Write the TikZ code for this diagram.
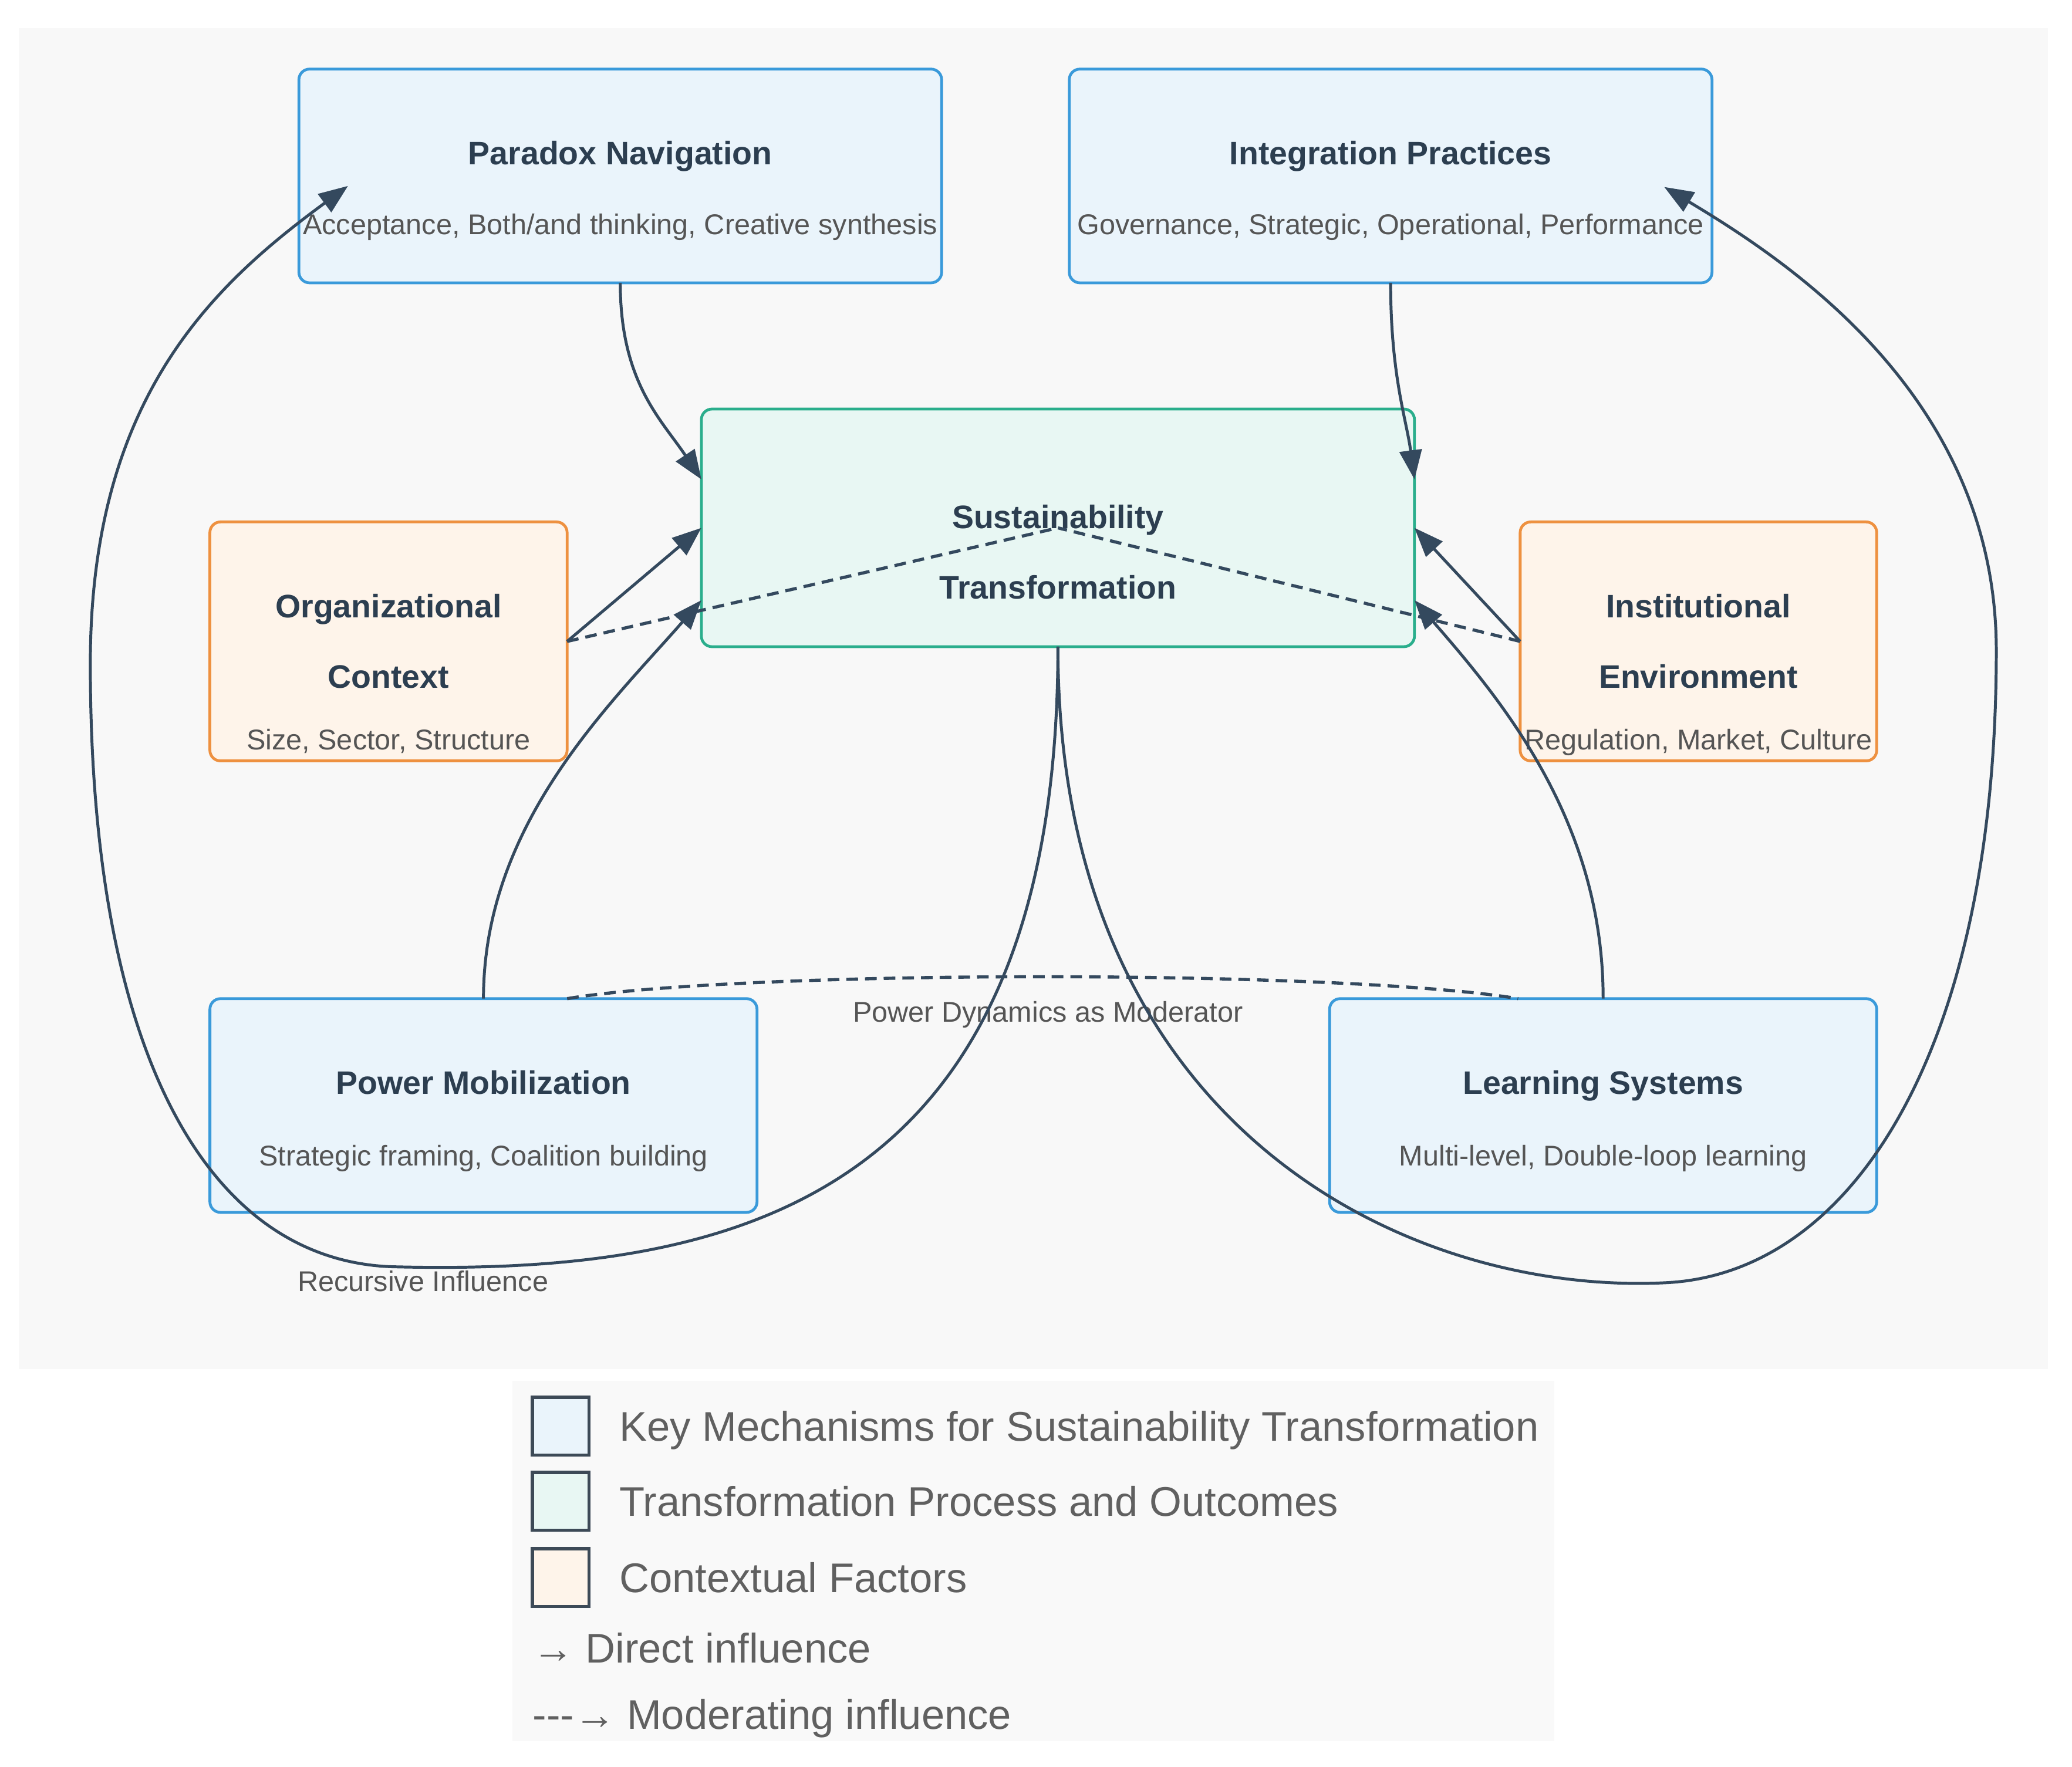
\documentclass[tikz,border=0pt]{standalone}
\usepackage{fontspec}
\setmainfont{Liberation Sans}
\usetikzlibrary{arrows.meta,calc}
\definecolor{panelbg}{HTML}{F8F8F8}
\definecolor{lgdbg}{HTML}{F9F9F9}
\definecolor{mechfill}{HTML}{EAF4FB}
\definecolor{mechline}{HTML}{3A9ADA}
\definecolor{procfill}{HTML}{E8F7F3}
\definecolor{procline}{HTML}{2AAE8C}
\definecolor{ctxfill}{HTML}{FEF4EA}
\definecolor{ctxline}{HTML}{EE9140}
\definecolor{conncol}{HTML}{34495E}
\definecolor{titlecol}{HTML}{2C3E50}
\definecolor{subcol}{HTML}{555555}
\definecolor{lgdcol}{HTML}{606060}
\definecolor{swline}{HTML}{3D4A57}
\begin{document}
\begin{tikzpicture}[x=0.02cm,y=-0.02cm,
  boxbase/.style={draw, rounded corners=0.16cm, line width=1.2pt, inner sep=0pt, outer sep=0pt},
  mech/.style={boxbase, draw=mechline, fill=mechfill},
  proc/.style={boxbase, draw=procline, fill=procfill},
  ctx/.style={boxbase, draw=ctxline, fill=ctxfill},
  ttl/.style={anchor=base, font=\fontsize{13.95}{16}\selectfont\bfseries, text=titlecol, inner sep=0pt},
  subtxt/.style={anchor=base, font=\fontsize{12.23}{14}\selectfont, text=subcol, inner sep=0pt},
  lgdtxt/.style={anchor=base west, font=\fontsize{17.75}{20}\selectfont, text=lgdcol, inner sep=0pt},
  swatch/.style={draw=swline, line width=1.4pt, minimum width=0.856cm, minimum height=0.87cm, inner sep=0pt, outer sep=0pt},
  conn/.style={draw=conncol, line width=1.25pt},
  arr/.style={conn, -{Triangle[length=12.5pt,width=9.5pt]}},
  modline/.style={conn, line width=1.35pt, dash pattern=on 5pt off 3pt}
]
\fill[white] (0,0) rectangle (1560,1330.6);
\useasboundingbox (0,0) rectangle (1560,1330.6);
\fill[panelbg] (14,21) rectangle (1542,1031);
\fill[lgdbg] (386,1040) rectangle (1170,1311);

% boxes
\node[mech, minimum width=9.68cm, minimum height=3.22cm] (pn) at (467,132.5) {};
\node[mech, minimum width=9.68cm, minimum height=3.22cm] (ip) at (1047,132.5) {};
\node[proc, minimum width=10.74cm, minimum height=3.58cm] (st) at (796.5,397.5) {};
\node[ctx, minimum width=5.38cm, minimum height=3.6cm] (oc) at (292.5,483) {};
\node[ctx, minimum width=5.37cm, minimum height=3.6cm] (ie) at (1278.75,483) {};
\node[mech, minimum width=8.24cm, minimum height=3.22cm] (pm) at (364,832.5) {};
\node[mech, minimum width=8.24cm, minimum height=3.22cm] (ls) at (1207,832.5) {};

% texts
\node[ttl] (pnt) at (467,123.8) {Paradox Navigation};
\node[subtxt] (pns) at (467,176.7) {Acceptance, Both/and thinking, Creative synthesis};
\node[ttl] (ipt) at (1047,123.8) {Integration Practices};
\node[subtxt] (ips) at (1047,176.7) {Governance, Strategic, Operational, Performance};
\node[ttl] (stt1) at (796.5,397.8) {Sustainability};
\node[ttl] (stt2) at (796.5,450.8) {Transformation};
\node[ttl] (oct1) at (292.5,465.2) {Organizational};
\node[ttl] (oct2) at (292.5,518.3) {Context};
\node[subtxt] (ocs) at (292.5,564.5) {Size, Sector, Structure};
\node[ttl] (iet1) at (1278.75,465.2) {Institutional};
\node[ttl] (iet2) at (1278.75,518.3) {Environment};
\node[subtxt] (ies) at (1278.75,564.5) {Regulation, Market, Culture};
\node[ttl] (pmt) at (364,823.8) {Power Mobilization};
\node[subtxt] (pms) at (364,877.7) {Strategic framing, Coalition building};
\node[ttl] (lst) at (1207,823.8) {Learning Systems};
\node[subtxt] (lss) at (1207,877.7) {Multi-level, Double-loop learning};
\node[subtxt] (reclbl) at (318.5,972.4) {Recursive Influence};
\node[subtxt] (pdlbl) at (789,769.7) {Power Dynamics as Moderator};

% waypoints
\coordinate (rl1) at (299,954);
\coordinate (rl2) at (68,500);
\coordinate (rr1) at (1253,966);
\coordinate (rr2) at (1503,490);

% direct influences
\draw[arr] (pn.south) .. controls +(0,75) and +(-30,-45) .. ($(st.west)+(0,-36.5)$);
\draw[arr] (ip.south) .. controls +(0,70) and +(-6,-45) .. ($(st.east)+(0,-36.5)$);
\draw[arr] (oc.east) -- (st.west);
\draw[arr] (ie.west) -- (st.east);
\draw[arr] (pm.north) .. controls +(0,-132) and +(-68,78) .. ($(st.west)+(0,54.5)$);
\draw[arr] (ls.north) .. controls +(0,-132) and +(68,78) .. ($(st.east)+(0,54.5)$);

% recursive loops
\draw[arr] (st.south) .. controls +(0,413) and +(261,6) .. (rl1)
  .. controls +(-139,-2) and +(0,300) .. (rl2)
  .. controls +(0,-200) and +(-102,75) .. ($(pn.center)+(-205,7.5)$);
\draw[arr] (st.south) .. controls +(0,363) and +(-193,9) .. (rr1)
  .. controls +(142,-6) and +(0,300) .. (rr2)
  .. controls +(0,-190) and +(95,57) .. ($(ip.center)+(206,8.3)$);

% moderating influences
\draw[modline] (oc.east) -- (st.center);
\draw[modline] (ie.west) -- (st.center);
\draw[modline] ($(pm.north)+(63,0)$) .. controls +(133,-22) and +(-133,-22) .. ($(ls.north)+(-64,0)$);

% legend
\node[swatch, fill=mechfill] (lg1) at (422.1,1074) {};
\node[swatch, fill=procfill] (lg2) at (422.1,1130.5) {};
\node[swatch, fill=ctxfill] (lg3) at (422.1,1188) {};
\node[lgdtxt] (lt1) at (466,1085) {Key Mechanisms for Sustainability Transformation};
\node[lgdtxt] (lt2) at (466,1141.5) {Transformation Process and Outcomes};
\node[lgdtxt] (lt3) at (466,1199) {Contextual Factors};
\node[lgdtxt] (lt4) at (400.7,1252) {→ Direct influence};
\node[lgdtxt] (lt5) at (400.7,1302) {{-}{-}{-}→ Moderating influence};
\end{tikzpicture}
\end{document}
